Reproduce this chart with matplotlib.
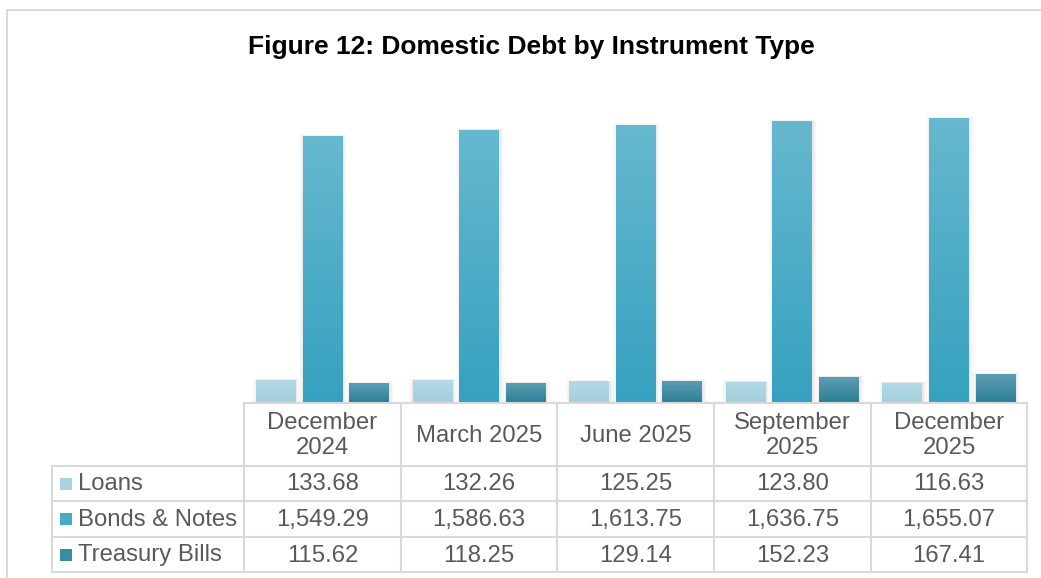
import numpy as np
import matplotlib.pyplot as plt
from matplotlib.patches import Rectangle
from matplotlib.colors import LinearSegmentedColormap

plt.rcParams['font.family'] = ['Liberation Sans', 'DejaVu Sans']

periods = ["December\n2024", "March 2025", "June 2025", "September\n2025", "December\n2025"]
series = ["Loans", "Bonds & Notes", "Treasury Bills"]
loans = [133.68, 132.26, 125.25, 123.80, 116.63]
bonds = [1549.29, 1586.63, 1613.75, 1636.75, 1655.07]
bills = [115.62, 118.25, 129.14, 152.23, 167.41]
values = [loans, bonds, bills]

# gradient top -> bottom colours per series
grad = [("#b4d9e5", "#a3cfdd"), ("#66b8cf", "#36a1bf"), ("#5c9fb2", "#2c7e95")]
key_col = ["#a9d3e0", "#47abc6", "#3a8ca3"]

W, H = 1041, 578
fig = plt.figure(figsize=(W / 100, H / 100), dpi=100)

x0, x1 = 244, 1027
base = 403
top = 93


def fx(px):
    return px / W


def fy(py):
    return 1 - py / H


# bar axes
ax = fig.add_axes([fx(x0), fy(base), fx(x1) - fx(x0), fy(top) - fy(base)])
ax.set_xlim(-0.5, 4.5)
ax.set_ylim(0, 1800)
ax.axis("off")

bw = 0.252
step = 0.298
xs = np.arange(len(periods))
g = np.linspace(0, 1, 64).reshape(-1, 1)
for i, vals in enumerate(values):
    pos = xs + (i - 1) * step
    # soft shadow
    for k, a in enumerate([0.03, 0.022, 0.015, 0.01]):
        d = (k + 1) * 0.007
        for p, v in zip(pos, vals):
            ax.add_patch(Rectangle((p - bw / 2 - d + 0.006, 0), bw + 2 * d, v + d * 350,
                                   color="black", alpha=a, lw=0, zorder=1))
    bars = ax.bar(pos, vals, width=bw, color=grad[i][1], lw=0, zorder=2)
    cmap = LinearSegmentedColormap.from_list("g%d" % i, [grad[i][1], grad[i][0]])
    for b in bars:
        im = ax.imshow(g, cmap=cmap, aspect="auto", origin="lower",
                       extent=[b.get_x(), b.get_x() + b.get_width(), 0, b.get_height()],
                       zorder=3)
        im.set_clip_path(b)
ax.set_xlim(-0.5, 4.5)
ax.set_ylim(0, 1800)

# overlay axes in pixel coords for frame and table
ov = fig.add_axes([0, 0, 1, 1])
ov.set_xlim(0, W)
ov.set_ylim(H, 0)
ov.axis("off")

lc = "#d9d9d9"
ov.plot([7, W], [10, 10], color=lc, lw=1.3)
ov.plot([7, 7], [10, H], color=lc, lw=1.3)

ov.text(531, 47, "Figure 12: Domestic Debt by Instrument Type", ha="center", va="center",
        fontsize=19, fontweight="bold", color="black")

cols = [244, 401, 557, 714, 871, 1027]
rows = [403, 466, 501, 537, 572]
tc = "#595959"
fs = 17.2

for c in cols:
    ov.plot([c, c], [rows[0], rows[-1]], color=lc, lw=1.5, zorder=1)
for r in rows:
    ov.plot([cols[0], cols[-1]], [r, r], color=lc, lw=1.5, zorder=1)
for r in rows[1:]:
    ov.plot([52, cols[0]], [r, r], color=lc, lw=1.5, zorder=1)
ov.plot([52, 52], [rows[1], rows[-1]], color=lc, lw=1.5, zorder=1)

for j, lab in enumerate(periods):
    cx = (cols[j] + cols[j + 1]) / 2
    ov.text(cx, (rows[0] + rows[1]) / 2 + 1, lab, ha="center", va="center",
            fontsize=fs, color=tc, linespacing=1.17)

for i, name in enumerate(series):
    cy = (rows[i + 1] + rows[i + 2]) / 2
    ov.add_patch(Rectangle((60, cy - 6), 12, 12, color=key_col[i], lw=0))
    ov.text(78, cy + 1, name, ha="left", va="center", fontsize=fs, color=tc)
    for j, v in enumerate(values[i]):
        cx = (cols[j] + cols[j + 1]) / 2
        ov.text(cx, cy + 1, "{:,.2f}".format(v), ha="center", va="center",
                fontsize=fs, color=tc)

fig.savefig("out.png", dpi=100)
